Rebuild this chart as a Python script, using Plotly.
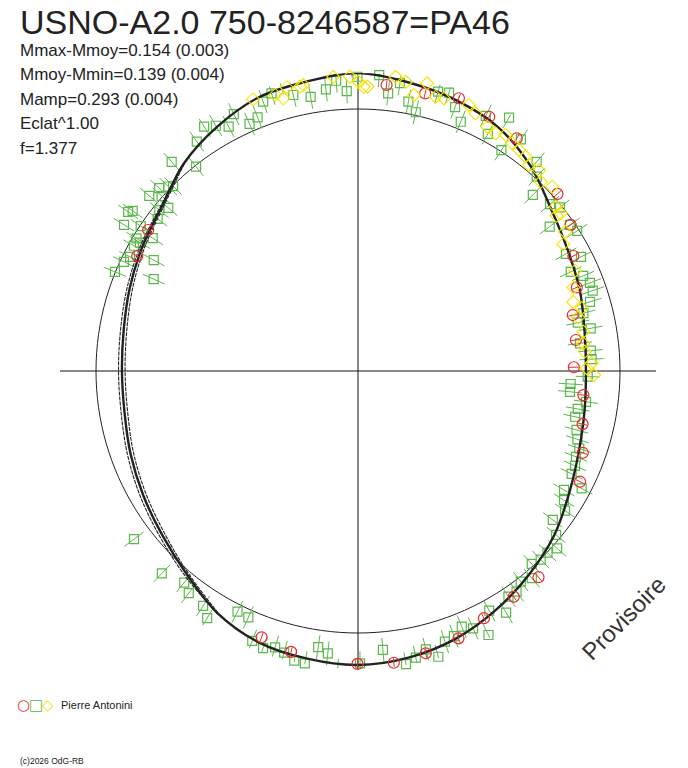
import plotly.graph_objects as go

# ---------------- data (phase in degrees, relative brightness; mean = 1) ----------------
title_text = "USNO-A2.0 750-8246587=PA46"
stats_lines = ["Mmax-Mmoy=0.154 (0.003)", "Mmoy-Mmin=0.139 (0.004)",
               "Mamp=0.293 (0.004)", "Eclat^1.00", "f=1.377"]
observer = "Pierre Antonini"
mean_level = 1.0

curve_phase = [0, 10, 20, 30, 40, 50, 60, 70, 80, 90, 100, 110, 120, 130, 140, 150, 160, 170,
               180, 190, 200, 210, 220, 230, 240, 250, 260, 270, 280, 290, 300, 310, 320, 330, 340, 350]
curve_flux = [1.137, 1.118, 1.099, 1.073, 1.023, 0.962, 0.924, 0.901, 0.878, 0.870, 0.878, 0.897,
              0.931, 0.977, 1.015, 1.053, 1.088, 1.111, 1.122, 1.115, 1.103, 1.069, 1.015, 0.975,
              0.947, 0.924, 0.905, 0.901, 0.908, 0.927, 0.950, 0.977, 1.034, 1.076, 1.111, 1.122]
left_phase = [210, 220, 230, 240, 250, 260, 270, 280, 290, 300, 310, 320]
left_hi = [1.071, 1.024, 0.986, 0.959, 0.936, 0.918, 0.914, 0.920, 0.937, 0.958, 0.982, 1.036]
left_lo = [1.067, 1.008, 0.964, 0.935, 0.912, 0.893, 0.889, 0.896, 0.916, 0.941, 0.971, 1.032]

green_phase = [310.0, 311.7, 318.3, 321.6, 324.9, 327.8, 329.9, 332.1, 334.2, 336.3, 338.4, 340.6,
               342.7, 344.9, 346.8, 350.2, 353.5, 355.7, 357.7, 359.9, 4.1, 6.2, 8.3, 10.6, 12.6,
               16.0, 18.1, 20.2, 22.4, 26.6, 28.7, 30.8, 35.1, 33.0, 40.5, 42.6, 44.8, 49.0, 51.0,
               53.0, 55.4, 57.4, 60.6, 62.9, 65.0, 67.1, 69.2, 71.1, 73.4, 75.6, 77.6, 79.6, 82.9,
               85.0, 87.1, 91.4, 93.5, 95.6, 97.7, 99.8, 101.9, 105.1, 107.3, 109.3, 111.5, 113.6,
               115.7, 117.7, 120.0, 122.1, 124.0, 127.4, 129.6, 131.7, 133.8, 135.9, 138.0, 140.0,
               142.3, 144.3, 146.3, 148.5, 151.3, 153.7, 155.9, 157.9, 160.1, 162.2, 164.3, 166.3,
               168.6, 170.7, 174.9, 179.6, 177.6, 181.9, 183.9, 186.1, 188.2, 190.3, 192.4, 194.7,
               196.7, 198.9, 201.4, 204.0, 206.6, 211.4, 213.4, 217.3, 219.4, 224.1, 233.1, 312.6,
               314.2, 315.0, 304.7, 305.4, 309.0, 310.7, 307.2, 302.0, 303.7, 300.9, 302.9, 300.5,
               299.2, 296.6, 295.0, 298.5, 292.2, 294.2]
green_flux = [1.040, 1.004, 1.069, 0.995, 1.070, 1.102, 1.082, 1.055, 1.089, 1.030, 1.041, 1.090,
              1.110, 1.140, 1.082, 1.062, 1.082, 1.111, 1.069, 1.123, 1.132, 1.066, 1.110, 1.046,
              1.012, 1.109, 1.118, 1.073, 1.029, 1.089, 1.032, 1.126, 1.081, 1.005, 1.050, 1.008,
              0.947, 0.971, 0.992, 0.916, 0.982, 0.993, 0.911, 0.956, 0.896, 0.933, 0.947, 0.947,
              0.924, 0.888, 0.859, 0.903, 0.854, 0.892, 0.893, 0.877, 0.813, 0.813, 0.878, 0.851,
              0.847, 0.864, 0.877, 0.895, 0.894, 0.904, 0.905, 0.964, 0.908, 0.928, 0.953, 0.936,
              0.981, 1.018, 1.002, 1.002, 0.991, 1.032, 1.016, 1.037, 1.035, 1.082, 1.043, 1.124,
              1.076, 1.053, 1.076, 1.085, 1.133, 1.094, 1.116, 1.134, 1.069, 1.116, 1.181, 1.190,
              1.148, 1.084, 1.065, 1.134, 1.132, 1.111, 1.101, 1.118, 1.106, 1.029, 1.027, 1.105,
              1.074, 1.066, 1.045, 1.076, 1.069, 1.031, 1.010, 0.998, 1.067, 1.055, 0.976, 0.955,
              0.960, 1.053, 0.997, 0.985, 0.933, 0.966, 0.980, 0.973, 0.986, 0.887, 1.002, 0.855]
green_err = 0.046

red_phase = [358.8, 5.7, 13.6, 20.3, 27.3, 34.3, 48.4, 55.5, 61.9, 69.1, 75.4, 81.9, 89.0, 96.1,
             103.3, 110.0, 116.5, 138.8, 145.4, 153.0, 159.4, 166.5, 173.0, 180.1, 193.4, 199.9,
             303.9, 297.5]
red_flux = [1.143, 1.097, 1.090, 1.110, 1.092, 1.075, 1.018, 0.985, 0.932, 0.894, 0.847, 0.840,
            0.824, 0.865, 0.881, 0.913, 0.947, 1.046, 1.047, 1.059, 1.090, 1.108, 1.122, 1.118,
            1.102, 1.081, 0.965, 0.950]
red_err = 0.018

yellow_phase = [340.2, 341.5, 338.9, 344.3, 345.9, 347.6, 349.2, 351.5, 353.2, 354.3, 355.2, 343.3,
                344.7, 348.5, 356.9, 358.4, 0.1, 1.1, 1.9, 7.3, 9.4, 11.5, 13.5, 15.8, 17.5, 22.6,
                24.5, 27.9, 30.1, 32.0, 34.1, 36.1, 38.0, 39.7, 42.1, 44.0, 46.5, 50.3, 52.1, 52.0,
                56.1, 58.3, 65.2, 68.8, 72.2, 74.3, 76.3, 80.1, 83.0, 85.1, 89.3, 88.1, 91.0, 339.5]
yellow_flux = [1.181, 1.178, 1.111, 1.147, 1.116, 1.148, 1.111, 1.151, 1.164, 1.148, 1.127, 1.100,
               1.079, 1.108, 1.150, 1.124, 1.104, 1.085, 1.086, 1.132, 1.119, 1.075, 1.129, 1.088,
               1.091, 1.100, 1.081, 1.055, 1.048, 1.063, 1.050, 1.044, 1.039, 1.022, 1.031, 1.004,
               1.022, 0.981, 0.980, 0.962, 0.952, 0.921, 0.913, 0.882, 0.863, 0.887, 0.865, 0.873,
               0.866, 0.869, 0.873, 0.892, 0.901, 1.158]

# ---------------- styling ----------------
GREEN = "#5cb84c"
RED = "#e8282e"
YELLOW = "#f5e400"
INK = "#222222"
FONT = "Liberation Sans"
W, H = 688, 768
OFF = 8  # page body margin of the written html


def err_segments(phase, flux, err):
    th, rr = [], []
    for p, f in zip(phase, flux):
        th += [p, p, None]
        rr += [f - err, f + err, None]
    return th, rr


fig = go.Figure()

# mean-level circle
circ_theta = list(range(0, 361, 2))
fig.add_trace(go.Scatterpolar(theta=circ_theta, r=[mean_level] * len(circ_theta), mode="lines",
                              line=dict(color=INK, width=1), hoverinfo="skip", cliponaxis=False))

# green error bars + squares
gt, gr = err_segments(green_phase, green_flux, green_err)
fig.add_trace(go.Scatterpolar(theta=gt, r=gr, mode="lines", line=dict(color=GREEN, width=1),
                              cliponaxis=False, hoverinfo="skip"))
fig.add_trace(go.Scatterpolar(theta=green_phase, r=green_flux, mode="markers", cliponaxis=False,
                              marker=dict(symbol="square-open", size=9, color=GREEN,
                                          line=dict(width=1.2, color=GREEN))))

# fitted curves
fig.add_trace(go.Scatterpolar(theta=curve_phase + [360], r=curve_flux + [curve_flux[0]],
                              mode="lines", line=dict(color=INK, width=2.4, shape="spline"),
                              cliponaxis=False))
for arr in (left_hi, left_lo):
    fig.add_trace(go.Scatterpolar(theta=left_phase, r=arr, mode="lines",
                                  line=dict(color=INK, width=1.1, shape="spline", dash="4px,1px"),
                                  cliponaxis=False))

# red error bars + circles
rt, rr = err_segments(red_phase, red_flux, red_err)
fig.add_trace(go.Scatterpolar(theta=rt, r=rr, mode="lines", line=dict(color=RED, width=1),
                              cliponaxis=False, hoverinfo="skip"))
fig.add_trace(go.Scatterpolar(theta=red_phase, r=red_flux, mode="markers", cliponaxis=False,
                              marker=dict(symbol="circle-open", size=11, color=RED,
                                          line=dict(width=1.2, color=RED))))

# yellow diamonds
fig.add_trace(go.Scatterpolar(theta=yellow_phase, r=yellow_flux, mode="markers", cliponaxis=False,
                              marker=dict(symbol="diamond-open", size=10, color=YELLOW,
                                          line=dict(width=1.1, color=YELLOW))))

# polar frame: center (358,371) on the page, outer radius 298 px
cx, cy, R = 358 - OFF, 371 - OFF, 298
fig.update_layout(
    width=W, height=H, margin=dict(l=0, r=0, t=0, b=0),
    paper_bgcolor="white", plot_bgcolor="white", showlegend=False,
    polar=dict(
        domain=dict(x=[(cx - R) / W, (cx + R) / W], y=[1 - (cy + R) / H, 1 - (cy - R) / H]),
        bgcolor="white",
        radialaxis=dict(range=[0, 1.1374], visible=False, showgrid=False),
        angularaxis=dict(rotation=90, direction="clockwise", tickmode="array",
                         tickvals=[0, 90, 180, 270], showticklabels=False, ticks="",
                         showgrid=True, gridcolor="#111111", gridwidth=1, showline=False),
    ),
)


def px(x, y):
    return (x - OFF) / W, 1 - (y - OFF) / H


ann = []
x0, y0 = px(18, 22)
ann.append(dict(text=title_text, x=x0, y=y0, xref="paper", yref="paper",
                xanchor="left", yanchor="middle", showarrow=False,
                font=dict(family=FONT, size=34, color=INK)))
for i, line in enumerate(stats_lines):
    x0, y0 = px(18, 50 + 24.6 * i)
    ann.append(dict(text=line, x=x0, y=y0, xref="paper", yref="paper",
                    xanchor="left", yanchor="middle", showarrow=False,
                    font=dict(family=FONT, size=17, color=INK)))
# legend symbols + observer
for sym, col, sx in (("○", RED, 23), ("□", GREEN, 36), ("◇", YELLOW, 48)):
    x0, y0 = px(sx, 705)
    ann.append(dict(text=sym, x=x0, y=y0, xref="paper", yref="paper",
                    xanchor="center", yanchor="middle", showarrow=False,
                    font=dict(family="DejaVu Sans", size=15, color=col)))
x0, y0 = px(59, 705)
ann.append(dict(text=observer, x=x0, y=y0, xref="paper", yref="paper",
                xanchor="left", yanchor="middle", showarrow=False,
                font=dict(family=FONT, size=11, color=INK)))
x0, y0 = px(623, 618)
ann.append(dict(text="Provisoire", x=x0, y=y0, xref="paper", yref="paper",
                xanchor="center", yanchor="middle", showarrow=False, textangle=-45,
                font=dict(family=FONT, size=24, color="#333333")))
x0, y0 = px(18, 761)
ann.append(dict(text="(c)2026 OdG-RB", x=x0, y=y0, xref="paper", yref="paper",
                xanchor="left", yanchor="middle", showarrow=False,
                font=dict(family=FONT, size=8.5, color=INK)))
fig.update_layout(annotations=ann)

fig.write_html("out.html")
